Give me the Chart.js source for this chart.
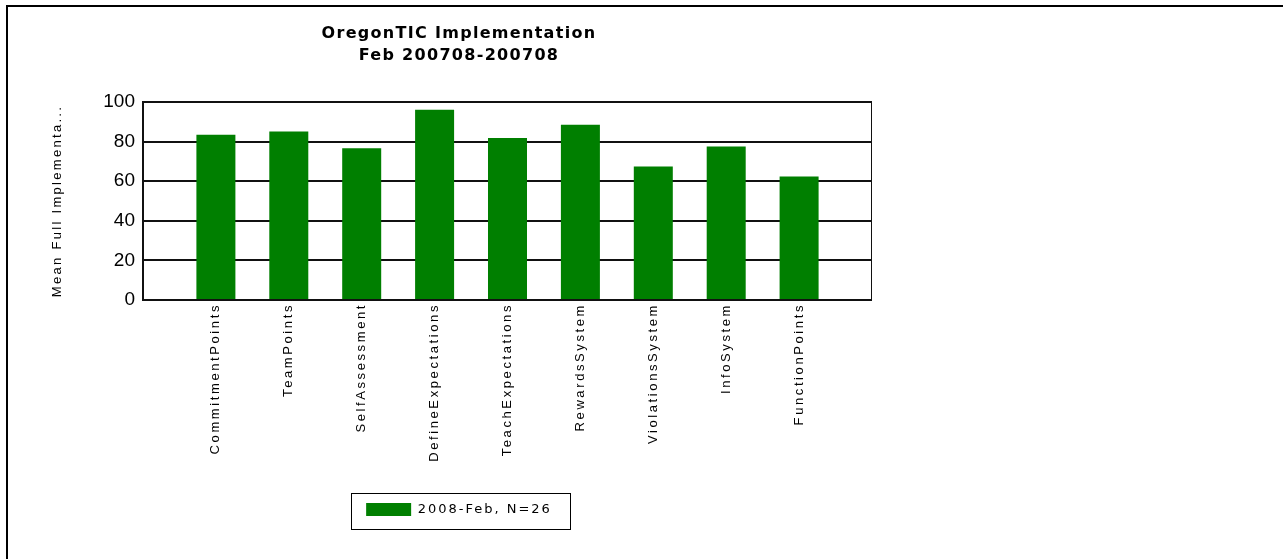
<!DOCTYPE html>
<html>
<head>
<meta charset="utf-8">
<title>OregonTIC Implementation</title>
<script src="https://cdn.jsdelivr.net/npm/chart.js@4.4.1/dist/chart.umd.min.js"></script>
<style>
  html, body { margin: 0; padding: 0; background: #fff; overflow: hidden; }
  #frame { position: absolute; left: 6px; top: 5px; right: 0; bottom: 0; border-top: 2px solid #000; border-left: 2px solid #000; }
  #wrap { position: absolute; left: 8px; top: 8px; width: 864px; height: 551px; }
</style>
</head>
<body>
<div id="frame"></div>
<div id="wrap"><canvas id="chart-impl"></canvas></div>
<script>
// data
var categories = ['CommitmentPoints', 'TeamPoints', 'SelfAssessment', 'DefineExpectations',
  'TeachExpectations', 'RewardsSystem', 'ViolationsSystem', 'InfoSystem', 'FunctionPoints'];
var meanScores = [83.5, 85.1, 76.7, 96.1, 81.8, 88.5, 67.4, 77.5, 62.4];
var seriesLabel = '2008-Feb, N=26';
var titleLines = ['OregonTIC Implementation', 'Feb 200708-200708'];
var yTitle = 'Mean Full Implementa...';
var yMin = 0, yMax = 100, yStep = 20;

// empty slot at each end, like the original
var xLabels = [''].concat(categories, ['']);
var xValues = [null].concat(meanScores, [null]);

var green = '#007f00';

// wrap a draw/fit method so its text gets letter spacing
function spaced(obj, name, spacing) {
  if (!obj || !obj[name] || obj[name]._spaced) return;
  var orig = obj[name];
  var f = function () {
    var ctx = this.ctx, prev = ctx.letterSpacing;
    ctx.letterSpacing = spacing;
    try { return orig.apply(this, arguments); }
    finally { ctx.letterSpacing = prev; }
  };
  f._spaced = true;
  obj[name] = f;
}

var oldLook = {
  id: 'oldLook',
  beforeLayout: function (chart) {
    spaced(chart.titleBlock, 'draw', '1.3px');
    spaced(chart.legend, 'fit', '2px');
    spaced(chart.legend, 'draw', '2px');
    spaced(chart.scales.x, 'drawLabels', '2.6px');
    spaced(chart.scales.y, 'drawTitle', '2.3px');
  },
  afterDraw: function (chart) {
    var ctx = chart.ctx, a = chart.chartArea;
    ctx.save();
    ctx.strokeStyle = '#111';
    ctx.lineWidth = 2;
    ctx.strokeRect(a.left, a.top, a.right - a.left, a.bottom - a.top);
    // box round the legend
    var hb = chart.legend.legendHitBoxes[0];
    if (hb) {
      ctx.lineWidth = 1;
      ctx.strokeStyle = '#000';
      ctx.strokeRect(Math.round(hb.left - 15) + 0.5, Math.round(hb.top - 10) + 0.5,
        Math.round(hb.width + 33), 36);
    }
    ctx.restore();
  }
};

Chart.defaults.color = '#000';

new Chart('chart-impl', {
  type: 'bar',
  data: {
    labels: xLabels,
    datasets: [{
      label: seriesLabel,
      data: xValues,
      backgroundColor: green,
      borderWidth: 0,
      categoryPercentage: 1,
      barPercentage: 0.535
    }]
  },
  options: {
    responsive: true,
    maintainAspectRatio: false,
    animation: false,
    events: [],
    layout: { padding: { left: 38, right: 0, top: 0, bottom: 33 } },
    plugins: {
      title: {
        display: true,
        text: titleLines,
        font: { family: 'DejaVu Sans', size: 16, weight: 'bold', lineHeight: '22px' },
        color: '#000',
        padding: { top: 15, bottom: 35 }
      },
      legend: {
        position: 'bottom',
        labels: {
          boxWidth: 45,
          boxHeight: 13,
          padding: 10,
          font: { family: 'DejaVu Sans', size: 13 },
          color: '#000'
        }
      },
      tooltip: { enabled: false }
    },
    scales: {
      x: {
        offset: false,
        grid: { display: false, drawTicks: false },
        border: { display: false },
        ticks: {
          autoSkip: false,
          minRotation: 90,
          maxRotation: 90,
          padding: 3,
          font: { family: 'Liberation Sans', size: 13 },
          color: '#000'
        },
        afterFit: function (s) { s.height = 193; s.paddingLeft = 0; s.paddingRight = 0; }
      },
      y: {
        min: yMin,
        max: yMax,
        grid: { color: '#111', lineWidth: 2, drawTicks: false },
        border: { display: true, color: '#111', width: 2 },
        ticks: {
          stepSize: yStep,
          padding: 8,
          font: { family: 'Liberation Sans', size: 19 },
          color: '#000'
        },
        title: {
          display: true,
          text: yTitle,
          padding: { top: 4, bottom: 0 },
          font: { family: 'Liberation Sans', size: 13 },
          color: '#000'
        },
        afterFit: function (s) { s.width = 97; }
      }
    }
  },
  plugins: [oldLook]
});
</script>
</body>
</html>
